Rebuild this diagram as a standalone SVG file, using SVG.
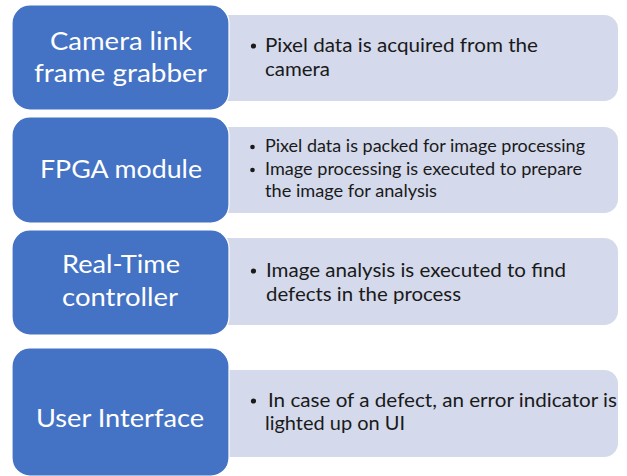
<svg xmlns="http://www.w3.org/2000/svg" width="627" height="476" viewBox="0 0 627 476">
<style>
.box{fill:#4472C4;stroke:#ffffff;stroke-width:1.2}
.panel{fill:#D4D9EB}
.lt{font-family:Lato,"Open Sans","Liberation Sans",sans-serif;font-size:25px;fill:#ffffff;text-anchor:middle}
.rt{font-family:Lato,"Open Sans","Liberation Sans",sans-serif;font-size:19.5px;fill:#1a1a1a}
.rs{font-family:Lato,"Open Sans","Liberation Sans",sans-serif;font-size:17px;fill:#1a1a1a}
.bul{fill:#1a1a1a}
</style>
<rect width="627" height="476" fill="#ffffff"/>
<g id="node-camera">
<rect class="panel" x="215" y="15" width="403" height="86" rx="14"/>
<rect class="box" x="12" y="5" width="217" height="105" rx="18"/>
<text class="lt" x="121" y="50" textLength="142" lengthAdjust="spacingAndGlyphs">Camera link</text>
<text class="lt" x="120.5" y="82" textLength="173" lengthAdjust="spacingAndGlyphs">frame grabber</text>
<circle class="bul" cx="253.5" cy="46" r="2.6"/>
<text class="rt" x="265" y="52" textLength="273" lengthAdjust="spacingAndGlyphs">Pixel data is acquired from the</text>
<text class="rt" x="265" y="76" textLength="65" lengthAdjust="spacingAndGlyphs">camera</text>
</g>
<g id="node-fpga">
<rect class="panel" x="215" y="127" width="403" height="86" rx="14"/>
<rect class="box" x="12" y="117" width="217" height="106" rx="18"/>
<text class="lt" x="121" y="178" textLength="162" lengthAdjust="spacingAndGlyphs">FPGA module</text>
<circle class="bul" cx="252.5" cy="147" r="2.3"/>
<text class="rs" x="265" y="152" textLength="320" lengthAdjust="spacingAndGlyphs">Pixel data is packed for image processing</text>
<circle class="bul" cx="252.5" cy="170" r="2.3"/>
<text class="rs" x="265" y="175" textLength="317" lengthAdjust="spacingAndGlyphs">Image processing is executed to prepare</text>
<text class="rs" x="265" y="197" textLength="172" lengthAdjust="spacingAndGlyphs">the image for analysis</text>
</g>
<g id="node-rt">
<rect class="panel" x="215" y="238" width="403" height="87" rx="14"/>
<rect class="box" x="12" y="230" width="217" height="105" rx="18"/>
<text class="lt" x="121" y="273" textLength="118" lengthAdjust="spacingAndGlyphs">Real-Time</text>
<text class="lt" x="120" y="306" textLength="116" lengthAdjust="spacingAndGlyphs">controller</text>
<circle class="bul" cx="253.5" cy="271" r="2.6"/>
<text class="rt" x="266" y="277" textLength="300" lengthAdjust="spacingAndGlyphs">Image analysis is executed to find</text>
<text class="rt" x="266" y="301" textLength="195" lengthAdjust="spacingAndGlyphs">defects in the process</text>
</g>
<g id="node-ui">
<rect class="panel" x="215" y="370" width="403" height="87" rx="14"/>
<rect class="box" x="12" y="348" width="217" height="128" rx="18"/>
<text class="lt" x="120" y="427" textLength="168" lengthAdjust="spacingAndGlyphs">User Interface</text>
<circle class="bul" cx="253.5" cy="401" r="2.6"/>
<text class="rt" x="268" y="407" textLength="349" lengthAdjust="spacingAndGlyphs">In case of a defect, an error indicator is</text>
<text class="rt" x="265" y="430" textLength="140" lengthAdjust="spacingAndGlyphs">lighted up on UI</text>
</g>
</svg>
